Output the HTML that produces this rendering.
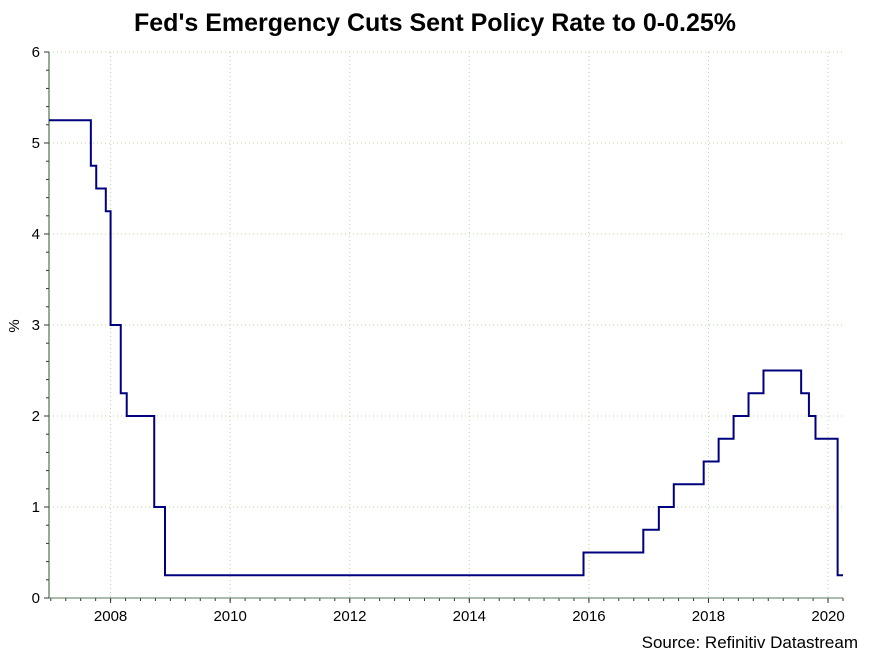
<!DOCTYPE html>
<html><head><meta charset="utf-8"><style>
body{margin:0;background:#fff;}
svg text{font-family:"Liberation Sans",Arial,sans-serif;}
</style></head><body>
<svg id="chart" width="869" height="653" xmlns="http://www.w3.org/2000/svg">
<text x="435" y="31" text-anchor="middle" font-size="25" font-weight="bold">Fed's Emergency Cuts Sent Policy Rate to 0-0.25%</text>
<text transform="translate(19,326) rotate(-90)" text-anchor="middle" font-size="15">%</text>
<text x="858" y="648" text-anchor="end" font-size="17">Source: Refinitiv Datastream</text>
<g id="grid"></g><g id="axes"></g><g id="series"></g>
</svg>
<script>
const stepDates=[2006.97,2007.67,2007.76,2007.92,2008.0,2008.17,2008.27,2008.73,2008.91,2015.91,2016.91,2017.17,2017.42,2017.92,2018.17,2018.42,2018.67,2018.92,2019.55,2019.68,2019.79,2020.16];
const stepRates=[5.25,4.75,4.5,4.25,3.0,2.25,2.0,1.0,0.25,0.5,0.75,1.0,1.25,1.5,1.75,2.0,2.25,2.5,2.25,2.0,1.75,0.25];
const endDate=2020.25;
const xTicks=[2008,2010,2012,2014,2016,2018,2020];
const yTicks=[0,1,2,3,4,5,6];
const X0=2006.97,X1=2020.25,px0=49,px1=843,py0=598,py1=52;
const x=v=>px0+(v-X0)/(X1-X0)*(px1-px0);
const y=v=>py0-(v/6)*(py0-py1);
const NS='http://www.w3.org/2000/svg';
function mk(t,a,p){const e=document.createElementNS(NS,t);for(const k in a)e.setAttribute(k,a[k]);document.getElementById(p).appendChild(e);return e;}
yTicks.forEach(v=>{
 if(v>0){const g=mk('line',{x1:px0,x2:px1,y1:y(v),y2:y(v),stroke:'#b8d8a0','stroke-dasharray':'1 3'},'grid');
 
 }
 const t=mk('line',{x1:px0-5,x2:px0,y1:y(v),y2:y(v),stroke:'#333'},'axes');
 
 
 const l=mk('text',{x:px0-9,y:y(v)+5,'text-anchor':'end','font-size':'15'},'axes');l.textContent=v;
 
 
 if(v<6)for(let k=1;k<5;k++){const m=mk('line',{x1:px0-3,x2:px0,y1:y(v+k*0.2),y2:y(v+k*0.2),stroke:'#333'},'axes');
 
 }
});
xTicks.forEach(v=>{
 const g=mk('line',{x1:x(v),x2:x(v),y1:py1,y2:py0,stroke:'#b8d8a0','stroke-dasharray':'1 3'},'grid');
 
 
 const t=mk('line',{x1:x(v),x2:x(v),y1:py0,y2:py0+5,stroke:'#333'},'axes');
 
 
 const l=mk('text',{x:x(v),y:py0+23,'text-anchor':'middle','font-size':'15'},'axes');l.textContent=v;
 
 
});
for(let q=2007;q<=2020.25;q+=0.25){if(q<X0)continue;const m=mk('line',{x1:x(q),x2:x(q),y1:py0,y2:py0+3,stroke:'#333'},'axes');
 
 }
const ya=mk('line',{x1:px0,x2:px0,y1:py1,y2:py0,stroke:'#2a5a2a'},'axes');


const xa=mk('line',{x1:px0,x2:px1,y1:py0,y2:py0,stroke:'#5a7a5a'},'axes');


let d='';
stepDates.forEach((t,i)=>{const next=i+1<stepDates.length?stepDates[i+1]:endDate;
 d+=(i===0?'M':'L')+x(t)+','+y(stepRates[i])+' L'+x(next)+','+y(stepRates[i])+' ';});
const p=mk('path',{d:d,fill:'none',stroke:'#00007f','stroke-width':2},'series');


</script>
</body></html>
